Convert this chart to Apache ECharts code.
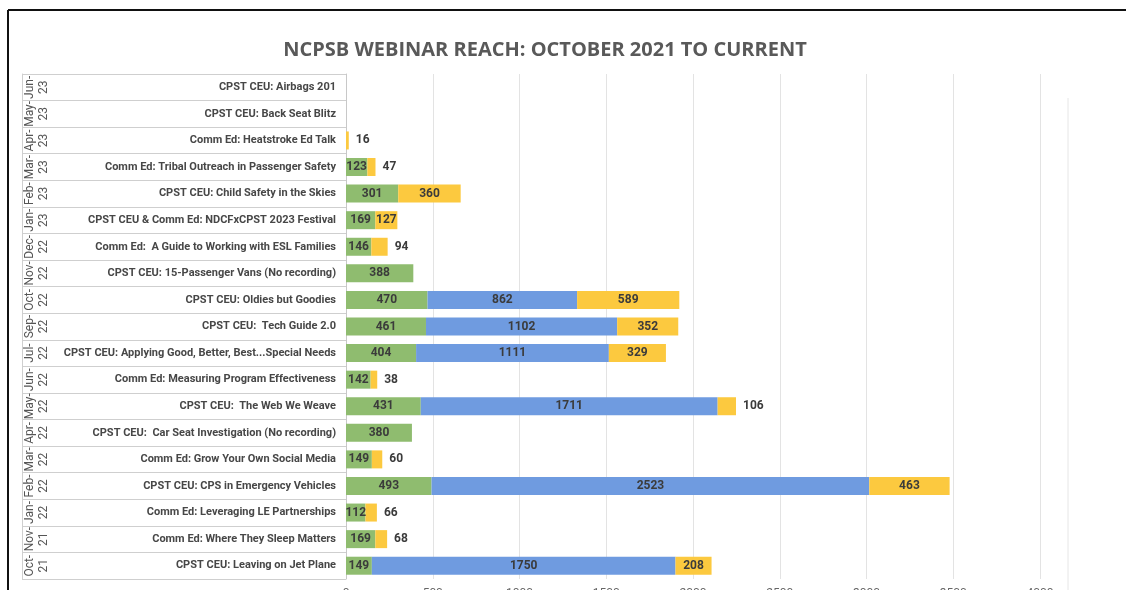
<!DOCTYPE html>
<html>
<head>
<meta charset="utf-8">
<script src="https://cdn.jsdelivr.net/npm/echarts@6/dist/echarts.min.js"></script>
<style>
  html, body { margin: 0; padding: 0; background: #fff; }
  #box1 { width: 1126px; height: 590px; }
</style>
</head>
<body>
<div id="box1"></div>
<script>
// rows go bottom -> top (first item is the lowest bar)
const months = ["Oct-21", "Nov-21", "Jan-22", "Feb-22", "Mar-22", "Apr-22", "May-22", "Jun-22", "Jul-22",
  "Sep-22", "Oct-22", "Nov-22", "Dec-22", "Jan-23", "Feb-23", "Mar-23", "Apr-23", "May-23", "Jun-23"];
const webinars = [
  "CPST CEU: Leaving on Jet Plane",
  "Comm Ed: Where They Sleep Matters",
  "Comm Ed: Leveraging LE Partnerships",
  "CPST CEU: CPS in Emergency Vehicles",
  "Comm Ed: Grow Your Own Social Media",
  "CPST CEU:  Car Seat Investigation (No recording)",
  "CPST CEU:  The Web We Weave",
  "Comm Ed: Measuring Program Effectiveness",
  "CPST CEU: Applying Good, Better, Best...Special Needs",
  "CPST CEU:  Tech Guide 2.0",
  "CPST CEU: Oldies but Goodies",
  "CPST CEU: 15-Passenger Vans (No recording)",
  "Comm Ed:  A Guide to Working with ESL Families",
  "CPST CEU & Comm Ed: NDCFxCPST 2023 Festival",
  "CPST CEU: Child Safety in the Skies",
  "Comm Ed: Tribal Outreach in Passenger Safety",
  "Comm Ed: Heatstroke Ed Talk",
  "CPST CEU: Back Seat Blitz",
  "CPST CEU: Airbags 201"
];
const liveAttendees = [149, 169, 112, 493, 149, 380, 431, 142, 404, 461, 470, 388, 146, 169, 301, 123, null, null, null];
const ceuViews = [1750, null, null, 2523, null, null, 1711, null, 1111, 1102, 862, null, null, null, null, null, null, null, null];
const recordingViews = [208, 68, 66, 463, 60, null, 106, 38, 329, 352, 589, null, 94, 127, 360, 47, 16, null, null];
const xTicks = [0, 500, 1000, 1500, 2000, 2500, 3000, 3500, 4000];

let myCharts = echarts.init(document.getElementById("box1"));

const valueLabel = {
  show: true,
  position: "inside",
  color: "#3b3b3b",
  fontFamily: "Roboto",
  fontWeight: "bold",
  fontSize: 12,
};

// small yellow pieces get their number outside, to the right
const yellowData = recordingViews.map((v) => {
  if (v != null && v < 110) {
    return { value: v, label: { position: "right", distance: 7 } };
  }
  return v;
});

myCharts.setOption({
  animation: false,
  color: ["#8fbc6f", "#6f9be0", "#fcc93f"],
  title: {
    text: "NCPSB WEBINAR REACH: OCTOBER 2021 TO CURRENT",
    left: 540,
    top: 35,
    textAlign: "center",
    textStyle: {
      fontFamily: "Open Sans",
      fontWeight: "bold",
      fontSize: 20,
      color: "#595959",
    },
  },
  graphic: [
    // screenshot frame
    { type: "line", shape: { x1: 8, y1: 10, x2: 1126, y2: 10 }, style: { stroke: "#111", lineWidth: 2 } },
    { type: "line", shape: { x1: 8, y1: 10, x2: 8, y2: 590 }, style: { stroke: "#111", lineWidth: 2 } },
    { type: "line", shape: { x1: 1068, y1: 98, x2: 1068, y2: 590 }, style: { stroke: "#e6e6e6", lineWidth: 1 } },
  ],
  grid: {
    left: 346,
    right: 86,
    top: 74,
    bottom: 11,
    outerBoundsMode: "none",
    containLabel: false,
  },
  xAxis: {
    type: "value",
    min: 0,
    max: 4000,
    interval: 500,
    axisLine: { show: false },
    axisTick: { show: false },
    splitLine: { lineStyle: { color: "#e3e3e3" } },
    axisLabel: {
      margin: 9,
      color: "#666",
      fontFamily: "Roboto",
      fontSize: 12,
      formatter: (v) => String(v),
      customValues: xTicks,
    },
  },
  yAxis: [
    {
      type: "category",
      data: webinars,
      position: "left",
      axisLine: { show: true, lineStyle: { color: "#c8c8c8" } },
      // long ticks make the row lines of the label table
      axisTick: { show: true, length: 324, lineStyle: { color: "#cfcfcf" } },
      axisLabel: {
        interval: 0,
        margin: 10,
        color: "#474747",
        fontFamily: "Roboto",
        fontWeight: "bold",
        fontSize: 11,
      },
    },
    {
      type: "category",
      data: months,
      position: "left",
      offset: 324,
      axisLine: { show: true, lineStyle: { color: "#cfcfcf" } },
      axisTick: { show: false },
      axisLabel: {
        interval: 0,
        inside: true,
        rotate: 90,
        margin: 1,
        color: "#555",
        fontFamily: "Roboto",
        fontSize: 12,
        lineHeight: 14,
        formatter: (v) => v.replace("-", "-\n"),
      },
    },
  ],
  series: [
    {
      name: "Live",
      type: "bar",
      stack: "reach",
      barWidth: 18,
      data: liveAttendees,
      label: valueLabel,
    },
    {
      name: "CEU",
      type: "bar",
      stack: "reach",
      barWidth: 18,
      data: ceuViews,
      label: valueLabel,
    },
    {
      name: "Recording",
      type: "bar",
      stack: "reach",
      barWidth: 18,
      data: yellowData,
      label: valueLabel,
    },
  ],
});
</script>
</body>
</html>
